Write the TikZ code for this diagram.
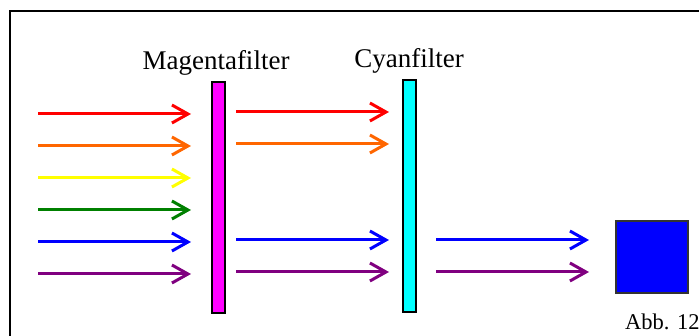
\documentclass[tikz,border=0pt]{standalone}
\usepackage{fontspec}
\setmainfont{Liberation Serif}
\usetikzlibrary{arrows.meta}
\definecolor{rayred}{RGB}{255,0,0}
\definecolor{rayorange}{RGB}{255,102,0}
\definecolor{rayyellow}{RGB}{255,255,0}
\definecolor{raygreen}{RGB}{0,128,0}
\definecolor{rayblue}{RGB}{0,0,255}
\definecolor{raypurple}{RGB}{128,0,128}
\definecolor{filtmagenta}{RGB}{255,0,255}
\definecolor{filtcyan}{RGB}{0,255,255}
\tikzset{
  ray/.style={line width=3pt, -{Straight Barb[length=16pt,width=18pt,line width=3pt]}},
  filterbar/.style={draw=black, line width=1.6pt, minimum width=13pt, inner sep=0pt},
  caption/.style={font=\fontsize{27}{30}\selectfont, inner sep=0pt, anchor=base},
}
\begin{document}
\begin{tikzpicture}[x=1pt,y=-1pt]
\useasboundingbox (0,0) rectangle (699,336);
\fill[white] (0,0) rectangle (699,336);
% frame, running off the right and bottom edges
\begin{scope}
\clip (0,0) rectangle (699,336);
\draw[line width=2pt] (10,11) rectangle (720,350);
\end{scope}

% filters
\node[filterbar, fill=filtmagenta, minimum height=231pt] (mag) at (218.5,197.5) {};
\node[filterbar, fill=filtcyan, minimum height=232pt] (cyan) at (409.5,196) {};
\node[caption] (magl) at (216,70) {Magentafilter};
\node[caption] (cyanl) at (409,68) {Cyanfilter};

% screen
\node[draw=black!80, line width=1.5pt, fill=rayblue, minimum size=72pt, inner sep=0pt] (screen) at (652,257) {};
\node[font=\fontsize{22.5}{26}\selectfont, inner sep=0pt, anchor=base west] (abb) at (625,330) {Abb. 12};

% incoming light
\foreach \c/\y [count=\i] in {rayred/114,rayorange/146,rayyellow/178,raygreen/210,rayblue/242,raypurple/274}{
  \coordinate (in\i s) at (38,\y);
  \coordinate (in\i e) at (191,\y);
  \draw[ray, \c] (in\i s) -- (in\i e);
}
% after the magenta filter
\foreach \c/\y [count=\i] in {rayred/112,rayorange/144,rayblue/240,raypurple/272}{
  \coordinate (mid\i s) at (236,\y);
  \coordinate (mid\i e) at (389,\y);
  \draw[ray, \c] (mid\i s) -- (mid\i e);
}
% after the cyan filter
\foreach \c/\y [count=\i] in {rayblue/240,raypurple/272}{
  \coordinate (out\i s) at (436,\y);
  \coordinate (out\i e) at (589,\y);
  \draw[ray, \c] (out\i s) -- (out\i e);
}
\end{tikzpicture}
\end{document}
